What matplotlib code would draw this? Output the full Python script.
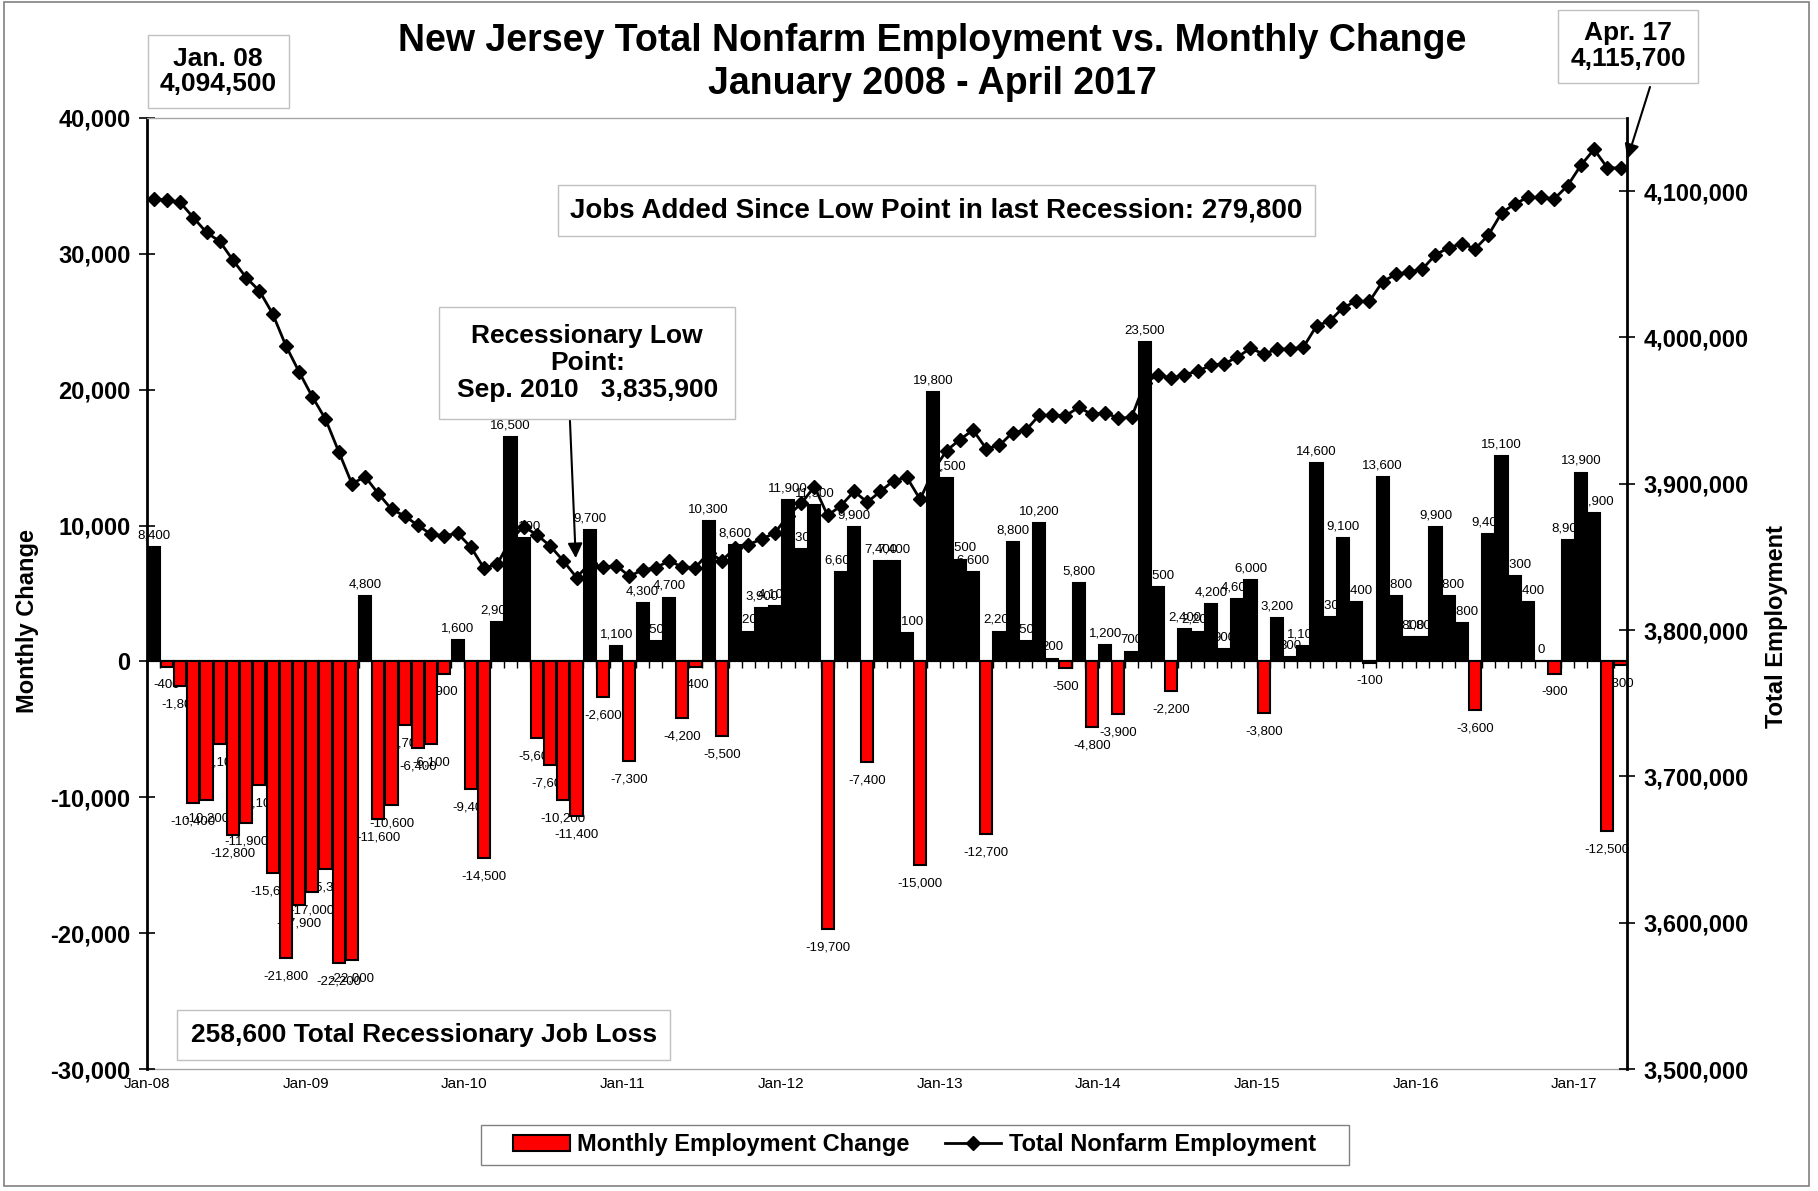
import numpy as np
import matplotlib
matplotlib.use('Agg')
import matplotlib.pyplot as plt
from matplotlib.patches import Patch, Rectangle
from matplotlib.lines import Line2D

plt.rcParams['font.family'] = ['Liberation Sans', 'DejaVu Sans']

# monthly change in NJ nonfarm employment, Jan 2008 - Apr 2017
change_2008 = [8400, -400, -1800, -10400, -10200, -6100, -12800, -11900, -9100, -15600, -21800, -17900]
change_2009 = [-17000, -15300, -22200, -22000, 4800, -11600, -10600, -4700, -6400, -6100, -900, 1600]
change_2010 = [-9400, -14500, 2900, 16500, 9100, -5600, -7600, -10200, -11400, 9700, -2600, 1100]
change_2011 = [-7300, 4300, 1500, 4700, -4200, -400, 10300, -5500, 8600, 2200, 3900, 4100]
change_2012 = [11900, 8300, 11500, -19700, 6600, 9900, -7400, 7400, 7400, 2100, -15000, 19800]
change_2013 = [13500, 7500, 6600, -12700, 2200, 8800, 1500, 10200, 200, -500, 5800, -4800]
change_2014 = [1200, -3900, 700, 23500, 5500, -2200, 2400, 2200, 4200, 900, 4600, 6000]
change_2015 = [-3800, 3200, 300, 1100, 14600, 3300, 9100, 4400, -100, 13600, 4800, 1800]
change_2016 = [1800, 9900, 4800, 2800, -3600, 9400, 15100, 6300, 4400, 0, -900, 8900]
change_2017 = [13900, 10900, -12500, -300]
monthly_change = (change_2008 + change_2009 + change_2010 + change_2011 + change_2012
                  + change_2013 + change_2014 + change_2015 + change_2016 + change_2017)

# total nonfarm employment
total_employment = [
    4094500, 4094100, 4092300, 4081900, 4071700, 4065600, 4052800, 4040900, 4031800, 4016200, 3994400, 3976500,
    3959500, 3944200, 3922000, 3900000, 3904800, 3893200, 3882600, 3877900, 3871500, 3865400, 3864500, 3866100,
    3856700, 3842200, 3845100, 3861600, 3870700, 3865100, 3857500, 3847300, 3835900, 3845600, 3843000, 3844100,
    3836800, 3841100, 3842600, 3847300, 3843100, 3842700, 3853000, 3847500, 3856100, 3858300, 3862200, 3866300,
    3878200, 3886500, 3898000, 3878300, 3884900, 3894800, 3887400, 3894800, 3902200, 3904300, 3889300, 3909100,
    3922600, 3930100, 3936700, 3924000, 3926200, 3935000, 3936500, 3946700, 3946900, 3946400, 3952200, 3947400,
    3948600, 3944700, 3945400, 3968900, 3974400, 3972200, 3974600, 3976800, 3981000, 3981900, 3986500, 3992500,
    3988700, 3991900, 3992200, 3993300, 4007900, 4011200, 4020300, 4024700, 4024600, 4038200, 4043000, 4044800,
    4046600, 4056500, 4061300, 4064100, 4060500, 4069900, 4085000, 4091300, 4095700, 4095700, 4094800, 4103700,
    4117600, 4128500, 4116000, 4115700,
]

year_labels = ['Jan-08', 'Jan-09', 'Jan-10', 'Jan-11', 'Jan-12', 'Jan-13', 'Jan-14', 'Jan-15', 'Jan-16', 'Jan-17']
left_ticks = [-30000, -20000, -10000, 0, 10000, 20000, 30000, 40000]
right_ticks = [3500000, 3600000, 3700000, 3800000, 3900000, 4000000, 4100000]

low_idx = 32   # Sep 2010
last_idx = len(monthly_change) - 1

fig = plt.figure(figsize=(18.18, 11.91), dpi=100)
ax = fig.add_axes([0.0809, 0.1024, 0.8141, 0.7986])
x = np.arange(len(monthly_change))

# bars
colors = ['#ff0000' if v < 0 else 'black' for v in monthly_change]
ax.bar(x, monthly_change, width=0.92, color=colors, edgecolor='black', linewidth=1.5, zorder=3)

# bar value labels (drawn under the bars, like the original)
for i, v in enumerate(monthly_change):
    if v < 0:
        ax.annotate(f'{v:,}', (i, v), xytext=(0, -9), textcoords='offset points',
                    ha='center', va='top', fontsize=9.5, zorder=2)
    else:
        ax.annotate(f'{v:,}', (i, v), xytext=(0, 4), textcoords='offset points',
                    ha='center', va='bottom', fontsize=9.5, zorder=2)

ax.set_xlim(-0.5, len(monthly_change) - 0.5)
ax.set_ylim(-30000, 40000)
ax.set_yticks(left_ticks)
ax.set_yticklabels([f'{t:,}' for t in left_ticks], fontsize=17, fontweight='bold')
ax.tick_params(axis='y', direction='inout', length=12, width=1.2, pad=6)

# x axis line at zero with monthly ticks
ax.spines['bottom'].set_position(('data', 0))
ax.spines['bottom'].set_linewidth(1.5)
ax.set_xticks(np.arange(-0.5, len(monthly_change), 1))
ax.set_xticklabels([])
ax.tick_params(axis='x', direction='out', length=5, width=1)
ax.spines['left'].set_linewidth(2)
ax.spines['top'].set_color('#a6a6a6')
ax.spines['top'].set_linewidth(1)
ax.spines['right'].set_visible(False)

# year labels along the bottom of the plot
sec = ax.secondary_xaxis('bottom')
sec.set_xticks(np.arange(0, len(monthly_change), 12) - 0.5)
sec.set_xticklabels(year_labels, fontsize=11)
sec.tick_params(length=0, pad=6)
sec.spines['bottom'].set_color('#a6a6a6')
sec.spines['bottom'].set_linewidth(1)

# total employment line
ax2 = ax.twinx()
ax2.plot(x, total_employment, color='black', linewidth=2, marker='D', markersize=7.5, zorder=4)
ax2.set_ylim(3500000, 4150000)
ax2.set_yticks(right_ticks)
ax2.set_yticklabels([f'{t:,}' for t in right_ticks], fontsize=17, fontweight='bold')
ax2.tick_params(axis='y', direction='inout', length=12, width=1.2, pad=6)
ax2.spines['right'].set_linewidth(2)
for s in ['left', 'top', 'bottom']:
    ax2.spines[s].set_visible(False)

# titles and axis labels
fig.text(0.513, 0.9475, 'New Jersey Total Nonfarm Employment vs. Monthly Change\nJanuary 2008 - April 2017',
         ha='center', va='center', fontsize=27, fontweight='bold', linespacing=1.25)
fig.text(0.015, 0.479, 'Monthly Change', rotation=90, ha='center', va='center', fontsize=17, fontweight='bold')
fig.text(0.977, 0.474, 'Total Employment', rotation=90, ha='center', va='center', fontsize=17, fontweight='bold')

box = dict(boxstyle='square,pad=0.45', facecolor='white', edgecolor='#c0c0c0', linewidth=1)
fig.text(0.120, 0.940, 'Jan. 08\n4,094,500', ha='center', va='center', fontsize=19,
         fontweight='bold', linespacing=1.05, bbox=box)
fig.text(0.8955, 0.961, 'Apr. 17\n4,115,700', ha='center', va='center', fontsize=19,
         fontweight='bold', linespacing=1.1, bbox=dict(box, pad=0.5))
fig.text(0.515, 0.823, 'Jobs Added Since Low Point in last Recession: 279,800', ha='center', va='center',
         fontsize=20, fontweight='bold', bbox=dict(boxstyle='square,pad=0.45', facecolor='white',
                                                    edgecolor='#c0c0c0', linewidth=1))
fig.text(0.323, 0.695, 'Recessionary Low\nPoint:\nSep. 2010   3,835,900', ha='center', va='center',
         fontsize=19, fontweight='bold', linespacing=1.15,
         bbox=dict(boxstyle='square,pad=0.65', facecolor='white', edgecolor='#c0c0c0', linewidth=1))
fig.text(0.233, 0.131, '258,600 Total Recessionary Job Loss', ha='center', va='center', fontsize=19,
         fontweight='bold', bbox=dict(boxstyle='square,pad=0.5', facecolor='white',
                                      edgecolor='#c0c0c0', linewidth=1))

# arrows
arrow = dict(arrowstyle='-|>', color='black', linewidth=1.5, mutation_scale=22, shrinkA=0)
ax2.annotate('', xy=(low_idx, total_employment[low_idx]), xycoords='data',
             xytext=(0.3135, 0.647), textcoords='figure fraction',
             arrowprops=dict(arrow, shrinkB=14))
ax2.annotate('', xy=(last_idx + 0.3, total_employment[last_idx]), xycoords='data',
             xytext=(0.9076, 0.927), textcoords='figure fraction',
             arrowprops=dict(arrow, shrinkB=7))

# legend (frame drawn separately to get the wider side padding)
handles = [Patch(facecolor='#ff0000', edgecolor='black', linewidth=1.5),
           Line2D([0], [0], color='black', linewidth=2, marker='D', markersize=7.5)]
fig.legend(handles, ['Monthly Employment Change', 'Total Nonfarm Employment'],
           loc='center', bbox_to_anchor=(0.503, 0.039), ncol=2, frameon=False,
           prop={'size': 17, 'weight': 'bold'},
           handlelength=2.4, columnspacing=1.5, handletextpad=0.3, borderpad=0.4)
fig.patches.append(Rectangle((0.2646, 0.0218), 0.4774, 0.0336, transform=fig.transFigure,
                             fill=False, edgecolor='#808080', linewidth=1))

# chart border
fig.patches.append(Rectangle((0.002, 0.004), 0.993, 0.994, transform=fig.transFigure,
                             fill=False, edgecolor='#808080', linewidth=1.2))

fig.savefig('out.png', dpi=100)
